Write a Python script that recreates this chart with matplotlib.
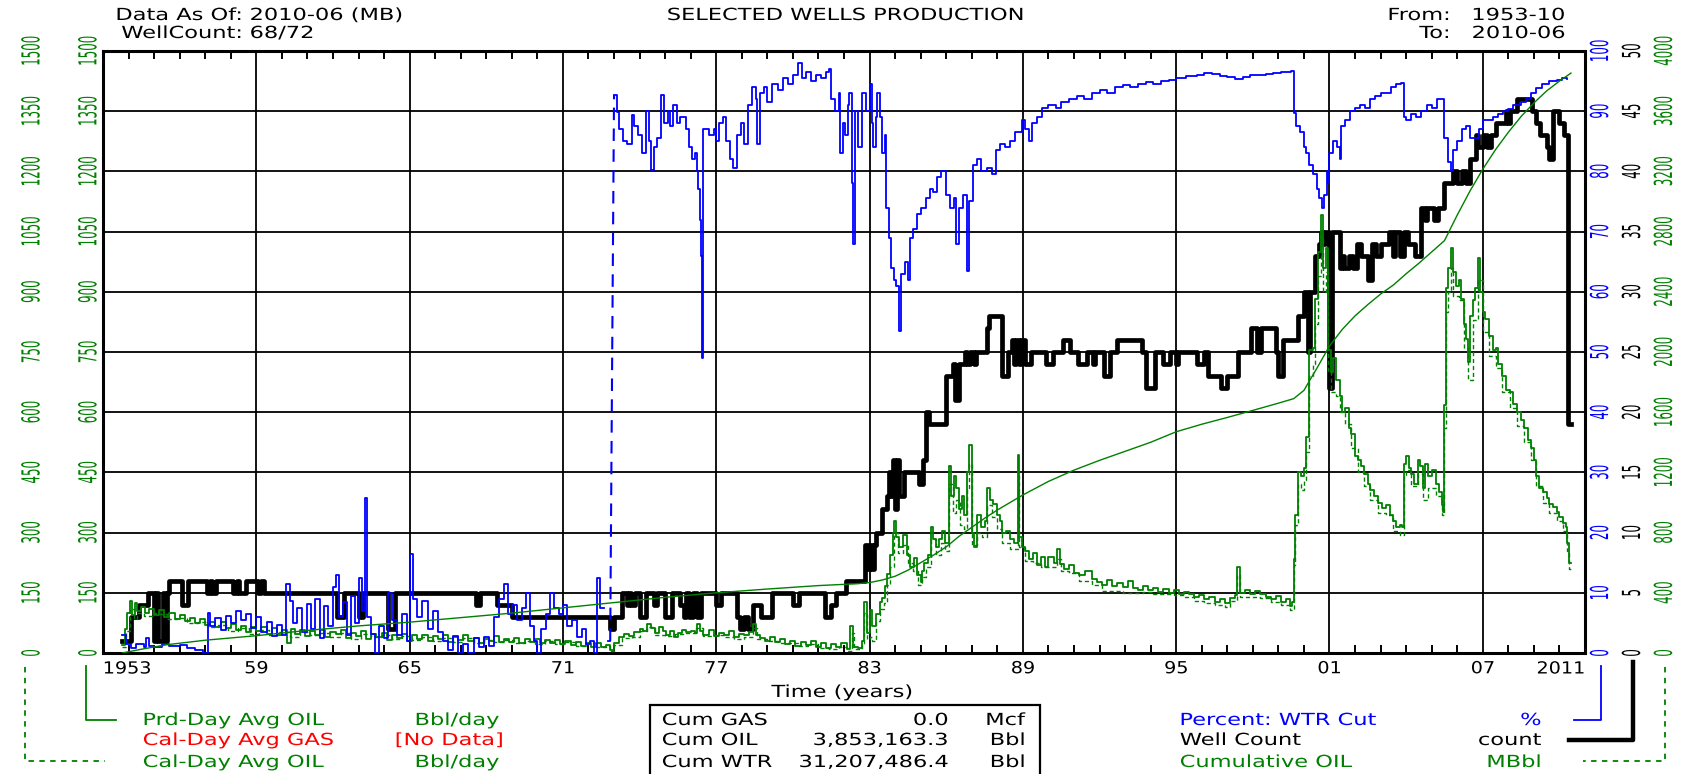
#!/usr/bin/env python3
import matplotlib
matplotlib.use("Agg")
import matplotlib.pyplot as plt
import matplotlib.patheffects as pe
from matplotlib.lines import Line2D
from matplotlib.patches import Rectangle
from matplotlib.transforms import Affine2D

GREEN = "#008000"
BLUE = "#0000ff"
RED = "#ff0000"

# ---- values, time in decimal years ----

# well count (steps)
well_t = [1953.75, 1954.08, 1954.42, 1954.75, 1955.0, 1955.08, 1955.17, 1955.33, 1955.42, 1955.5,
          1955.58, 1956.08, 1956.33, 1957.08, 1957.17, 1957.25, 1957.42, 1958.08, 1958.25, 1958.33,
          1958.58, 1959.08, 1959.17, 1959.3, 1962.17, 1962.42, 1963.0, 1963.17, 1964.17, 1964.42,
          1967.58, 1967.75, 1968.42, 1969.0, 1972.83, 1973.0, 1973.33, 1973.5, 1973.58, 1973.67,
          1973.83, 1974.0, 1974.25, 1974.58, 1974.67, 1975.0, 1975.25, 1975.58, 1975.75, 1975.83,
          1975.92, 1976.08, 1976.25, 1976.42, 1977.0, 1977.17, 1977.83, 1977.92, 1978.08, 1978.25,
          1978.42, 1978.75, 1979.17, 1980.0, 1980.25, 1981.25, 1981.5, 1981.67, 1982.08, 1982.83,
          1982.92, 1983.0, 1983.08, 1983.17, 1983.25, 1983.5, 1983.67, 1983.75, 1983.83, 1983.92,
          1984.0, 1984.08, 1984.17, 1984.33, 1984.92, 1985.08, 1985.2, 1985.33, 1986.0, 1986.25,
          1986.33, 1986.5, 1986.75, 1986.83, 1986.92, 1987.08, 1987.17, 1987.58, 1987.67, 1988.17,
          1988.42, 1988.58, 1988.67, 1988.75, 1988.83, 1988.92, 1989.08, 1989.33, 1989.92, 1990.17,
          1990.58, 1990.83, 1991.17, 1991.5, 1991.75, 1991.83, 1992.17, 1992.42, 1992.67, 1993.67,
          1993.83, 1994.17, 1994.5, 1994.75, 1995.0, 1995.08, 1995.83, 1996.08, 1996.25, 1996.75,
          1997.0, 1997.42, 1997.92, 1998.17, 1998.33, 1998.92, 1999.0, 1999.17, 1999.75, 2000.0,
          2000.17, 2000.25, 2000.42, 2000.58, 2000.67, 2000.75, 2000.83, 2001.0, 2001.08, 2001.42,
          2001.5, 2001.58, 2001.75, 2001.92, 2002.08, 2002.25, 2002.5, 2002.67, 2002.83, 2003.0,
          2003.33, 2003.5, 2003.58, 2003.75, 2003.92, 2004.08, 2004.33, 2004.58, 2004.75, 2004.83,
          2005.08, 2005.25, 2005.5, 2005.83, 2006.0, 2006.17, 2006.33, 2006.5, 2006.75, 2006.83,
          2007.0, 2007.17, 2007.33, 2007.5, 2007.92, 2008.0, 2008.08, 2008.33, 2008.92, 2009.08,
          2009.25, 2009.5, 2009.58, 2009.75, 2010.0, 2010.17, 2010.33, 2010.45]
well_n = [1, 3, 4, 5, 1, 5, 1, 5, 1, 5,
          6, 4, 6, 5, 6, 5, 6, 5, 6, 5,
          6, 5, 6, 5, 3, 5, 3, 5, 2, 5,
          4, 5, 4, 3, 2, 3, 5, 4, 5, 4,
          5, 3, 5, 4, 5, 3, 5, 4, 3, 5,
          3, 5, 3, 5, 4, 5, 3, 2, 3, 2,
          4, 3, 5, 4, 5, 3, 4, 5, 6, 9,
          7, 9, 7, 9, 10, 12, 13, 15, 13, 16,
          12, 16, 13, 15, 14, 16, 20, 19, 23, 24,
          21, 24, 25, 24, 25, 24, 25, 27, 28, 23,
          25, 26, 24, 26, 24, 26, 24, 25, 24, 25,
          26, 25, 24, 25, 24, 25, 23, 25, 26, 25,
          22, 25, 24, 25, 24, 25, 24, 25, 23, 22,
          23, 25, 27, 25, 27, 25, 23, 26, 28, 30,
          25, 30, 33, 34, 35, 34, 35, 22, 35, 32,
          33, 32, 33, 32, 34, 33, 31, 34, 33, 34,
          35, 33, 35, 33, 35, 34, 33, 37, 36, 37,
          36, 37, 39, 40, 39, 40, 39, 41, 43, 42,
          43, 42, 43, 44, 45, 44, 45, 46, 45, 44,
          43, 42, 41, 45, 44, 43, 19, 19]

# percent water cut (steps); nan = no data
wtr_t = [1953.75, 1953.9, 1954.1, 1954.3, 1954.6, 1954.7, 1954.8, 1955.0, 1955.3, 1955.6,
         1956.0, 1956.3, 1956.6, 1956.9, 1957.1, 1957.2, 1957.4, 1957.6, 1957.8, 1958.0,
         1958.2, 1958.4, 1958.6, 1958.8, 1959.0, 1959.2, 1959.4, 1959.6, 1959.8, 1960.0,
         1960.15, 1960.3, 1960.45, 1960.6, 1960.8, 1961.0, 1961.15, 1961.3, 1961.5, 1961.65,
         1961.8, 1962.0, 1962.1, 1962.25, 1962.4, 1962.55, 1962.7, 1962.85, 1963.0, 1963.15,
         1963.25, 1963.35, 1963.5, 1963.65, 1963.8, 1964.0, 1964.15, 1964.3, 1964.5, 1964.7,
         1964.9, 1965.0, 1965.15, 1965.3, 1965.5, 1965.7, 1965.9, 1966.1, 1966.3, 1966.5,
         1966.7, 1966.9, 1967.1, 1967.3, 1967.5, 1967.7, 1967.9, 1968.1, 1968.3, 1968.5,
         1968.7, 1968.85, 1969.0, 1969.2, 1969.4, 1969.55, 1969.7, 1969.85, 1970.0, 1970.15,
         1970.35, 1970.5, 1970.65, 1970.85, 1971.0, 1971.15, 1971.35, 1971.55, 1971.75, 1971.9,
         1972.05, 1972.2, 1972.35, 1972.45, 1972.6, 1972.75, 1972.85,
         1973.0, 1973.1, 1973.2, 1973.35, 1973.5, 1973.7, 1973.8, 1973.95, 1974.1, 1974.25,
         1974.35, 1974.45, 1974.55, 1974.7, 1974.85, 1974.95, 1975.1, 1975.2, 1975.3, 1975.45,
         1975.6, 1975.8, 1975.95, 1976.05, 1976.15, 1976.25, 1976.3, 1976.35, 1976.4, 1976.45,
         1976.5, 1976.7, 1976.9, 1977.0, 1977.1, 1977.25, 1977.4, 1977.55, 1977.65, 1977.8,
         1977.95, 1978.1, 1978.25, 1978.4, 1978.55, 1978.6, 1978.7, 1978.85, 1979.0, 1979.2,
         1979.4, 1979.6, 1979.8, 1980.0, 1980.2, 1980.35, 1980.5, 1980.7, 1980.9, 1981.1,
         1981.3, 1981.4, 1981.5, 1981.65, 1981.8, 1981.85, 1981.95, 1982.05, 1982.15, 1982.2,
         1982.3, 1982.35, 1982.45, 1982.55, 1982.7, 1982.85, 1983.0, 1983.1, 1983.15, 1983.25,
         1983.3, 1983.4, 1983.5, 1983.6, 1983.65, 1983.75, 1983.85, 1983.95, 1984.05, 1984.15,
         1984.25, 1984.4, 1984.5, 1984.6, 1984.7, 1984.85, 1985.0, 1985.2, 1985.35, 1985.5,
         1985.65, 1985.8, 1986.0, 1986.15, 1986.3, 1986.4, 1986.5, 1986.65, 1986.8, 1986.9,
         1987.05, 1987.2, 1987.35, 1987.6, 1987.8, 1987.95, 1988.1, 1988.3, 1988.5, 1988.7,
         1988.95, 1989.1, 1989.25, 1989.35, 1989.55, 1989.75, 1990.0, 1990.3, 1990.5, 1990.8,
         1991.1, 1991.4, 1991.7, 1992.0, 1992.3, 1992.6, 1992.9, 1993.2, 1993.5, 1993.8,
         1994.1, 1994.4, 1994.7, 1995.0, 1995.4, 1995.8, 1996.1, 1996.4, 1996.7, 1997.0,
         1997.3, 1997.6, 1997.9, 1998.2, 1998.5, 1998.8, 1999.1, 1999.5, 1999.6, 1999.7,
         1999.85, 2000.0, 2000.1, 2000.2, 2000.35, 2000.5, 2000.6, 2000.7, 2000.8, 2000.9,
         2000.95, 2001.0, 2001.15, 2001.3, 2001.4, 2001.45, 2001.6, 2001.8, 2002.0, 2002.2,
         2002.4, 2002.6, 2002.8, 2003.0, 2003.2, 2003.4, 2003.6, 2003.8, 2003.9, 2004.0,
         2004.2, 2004.4, 2004.6, 2004.8, 2005.0, 2005.2, 2005.4, 2005.5, 2005.65, 2005.75,
         2005.85, 2006.0, 2006.2, 2006.35, 2006.5, 2006.7, 2006.85, 2007.0, 2007.2, 2007.4,
         2007.6, 2007.8, 2008.0, 2008.2, 2008.5, 2008.7, 2008.9, 2009.1, 2009.3, 2009.6,
         2009.9, 2010.1, 2010.3]
wtr_pct = [3.0, 1.5, 0.8, 1.5, 1.0, 2.5, 1.2, 1.0, 1.5, 1.1,
           1.3, 0.8, 0.5, 0.0, 6.7, 4.5, 5.8, 3.8, 6.2, 5.0,
           7.0, 5.5, 6.4, 4.2, 6.0, 3.5, 5.2, 2.8, 4.6, 3.0,
           11.5, 8.6, 5.0, 7.5, 3.5, 8.2, 4.0, 9.0, 2.5, 7.8,
           4.5, 11.0, 13.0, 6.0, 8.5, 3.0, 9.5, 5.0, 12.5, 7.0,
           25.7, 6.0, 3.2, 0.0, 4.5, 2.5, 10.0, 5.5, 3.0, 6.5,
           2.0, 16.4, 9.0, 6.0, 8.6, 4.0, 7.0, 3.5, 2.0, 0.5,
           2.8, 0.0, 1.5, 0.0, 2.5, 1.0, 2.6, 1.2, 6.0, 9.0,
           11.4, 6.5, 8.0, 5.5, 7.5, 10.0, 4.5, 2.0, 0.0, 4.0,
           6.5, 10.0, 7.5, 6.5, 8.0, 4.5, 5.5, 2.6, 4.0, 1.5,
           2.0, 0.0, 12.4, 7.5, float("nan"), 2.0, float("nan"),
           92.7, 89.8, 87.0, 85.0, 84.5, 89.4, 87.5, 86.0, 83.0, 90.0,
           85.0, 80.3, 84.0, 85.5, 92.7, 88.0, 90.0, 87.5, 91.0, 88.0,
           89.0, 87.0, 84.0, 82.0, 83.0, 80.0, 77.0, 72.0, 66.0, 49.0,
           87.0, 86.0, 87.0, 85.0, 88.0, 89.0, 85.0, 82.0, 80.5, 86.0,
           88.0, 84.5, 91.0, 94.0, 92.0, 84.5, 93.0, 94.0, 91.5, 94.5,
           93.5, 95.5, 94.5, 96.0, 98.0, 95.5, 96.5, 95.0, 96.0, 95.5,
           96.5, 97.0, 92.0, 90.0, 93.0, 83.0, 88.0, 86.0, 91.0, 93.0,
           78.0, 68.0, 90.0, 84.0, 93.0, 90.0, 94.5, 88.0, 84.0, 89.0,
           93.0, 89.0, 83.0, 86.0, 74.0, 69.0, 64.0, 62.0, 61.0, 53.5,
           63.0, 65.0, 62.0, 69.0, 70.5, 73.0, 74.0, 75.5, 77.0, 76.5,
           79.0, 80.0, 76.0, 74.0, 75.5, 68.0, 74.0, 76.0, 63.5, 75.0,
           81.0, 82.0, 80.0, 80.5, 79.5, 83.5, 84.5, 84.0, 85.0, 86.5,
           88.5, 87.0, 85.0, 88.0, 89.0, 90.5, 91.0, 90.5, 91.5, 92.0,
           92.5, 92.0, 93.0, 93.5, 93.0, 94.0, 94.3, 94.0, 94.6, 94.8,
           94.5, 95.0, 95.2, 95.5, 95.8, 96.0, 96.3, 96.2, 95.8, 95.6,
           95.4, 95.7, 96.0, 96.0, 96.2, 96.4, 96.5, 96.6, 89.7, 87.5,
           86.5, 84.0, 83.0, 81.0, 79.5, 77.0, 75.5, 74.0, 76.0, 80.0,
           78.0, 83.0, 85.0, 84.0, 82.0, 87.5, 88.5, 90.0, 90.5, 91.0,
           90.5, 92.0, 92.5, 93.0, 93.0, 94.0, 94.5, 94.7, 89.0, 88.5,
           89.5, 89.0, 90.0, 91.0, 90.5, 92.0, 92.0, 85.5, 81.5, 80.0,
           83.5, 85.0, 87.0, 87.5, 85.5, 85.5, 87.0, 88.5, 88.5, 89.0,
           89.5, 90.0, 90.3, 91.0, 91.5, 92.0, 93.0, 93.8, 94.5, 95.0,
           95.2, 95.5, 95.4]

# the jump after the data gap in 1972-73 is drawn dashed
wtr_gap_t = [1972.85, 1972.92, 1973.0]
wtr_gap_pct = [2.0, 45.0, 92.7]

# producing-day average oil rate, Bbl/day (steps)
prd_t = [1953.75, 1953.85, 1953.95, 1954.05, 1954.15, 1954.25, 1954.35, 1954.5, 1954.65, 1954.8,
         1955.0, 1955.2, 1955.4, 1955.6, 1955.8, 1956.0, 1956.2, 1956.4, 1956.6, 1956.8,
         1957.0, 1957.2, 1957.4, 1957.6, 1957.8, 1958.0, 1958.2, 1958.4, 1958.6, 1958.8,
         1959.0, 1959.2, 1959.4, 1959.6, 1959.8, 1960.0, 1960.2, 1960.35, 1960.5, 1960.7,
         1960.9, 1961.1, 1961.3, 1961.5, 1961.7, 1961.9, 1962.1, 1962.3, 1962.5, 1962.7,
         1962.9, 1963.1, 1963.3, 1963.5, 1963.7, 1963.9, 1964.1, 1964.3, 1964.5, 1964.7,
         1964.9, 1965.1, 1965.3, 1965.5, 1965.7, 1965.9, 1966.1, 1966.3, 1966.5, 1966.7,
         1966.9, 1967.1, 1967.3, 1967.5, 1967.7, 1967.9, 1968.1, 1968.3, 1968.5, 1968.7,
         1968.9, 1969.1, 1969.3, 1969.5, 1969.7, 1969.9, 1970.1, 1970.3, 1970.5, 1970.7,
         1970.9, 1971.1, 1971.3, 1971.5, 1971.7, 1971.9, 1972.1, 1972.3, 1972.5, 1972.7,
         1972.85, 1973.0, 1973.2, 1973.4, 1973.6, 1973.8, 1974.0, 1974.15, 1974.3, 1974.45,
         1974.6, 1974.75, 1974.9, 1975.05, 1975.2, 1975.35, 1975.5, 1975.65, 1975.8, 1976.0,
         1976.15, 1976.25, 1976.35, 1976.5, 1976.7, 1976.9, 1977.1, 1977.3, 1977.5, 1977.7,
         1977.9, 1978.1, 1978.3, 1978.45, 1978.55, 1978.7, 1978.9, 1979.1, 1979.3, 1979.5,
         1979.7, 1979.9, 1980.1, 1980.3, 1980.5, 1980.7, 1980.9, 1981.1, 1981.3, 1981.5,
         1981.7, 1981.9, 1982.1, 1982.25, 1982.35, 1982.55, 1982.7, 1982.8, 1982.9, 1983.0,
         1983.1, 1983.25, 1983.4, 1983.5, 1983.6, 1983.7, 1983.8, 1983.9, 1983.95, 1984.05,
         1984.15, 1984.3, 1984.45, 1984.6, 1984.75, 1984.85, 1985.0, 1985.05, 1985.15, 1985.3,
         1985.4, 1985.5, 1985.6, 1985.7, 1985.85, 1985.95, 1986.1, 1986.2, 1986.3, 1986.4,
         1986.5, 1986.6, 1986.7, 1986.8, 1986.9, 1987.0, 1987.1, 1987.2, 1987.35, 1987.5,
         1987.6, 1987.7, 1987.85, 1988.0, 1988.1, 1988.2, 1988.35, 1988.5, 1988.65, 1988.8,
         1988.85, 1988.95, 1989.1, 1989.25, 1989.4, 1989.55, 1989.7, 1989.85, 1990.0, 1990.2,
         1990.35, 1990.45, 1990.6, 1990.8, 1991.0, 1991.2, 1991.45, 1991.7, 1991.9, 1992.1,
         1992.3, 1992.5, 1992.7, 1992.9, 1993.1, 1993.3, 1993.5, 1993.7, 1993.9, 1994.1,
         1994.3, 1994.5, 1994.7, 1994.9, 1995.1, 1995.3, 1995.5, 1995.7, 1995.9, 1996.1,
         1996.3, 1996.5, 1996.7, 1996.9, 1997.1, 1997.3, 1997.4, 1997.5, 1997.7, 1997.9,
         1998.1, 1998.3, 1998.5, 1998.7, 1998.9, 1999.1, 1999.3, 1999.45, 1999.55, 1999.6,
         1999.65, 1999.75, 1999.9, 2000.0, 2000.1, 2000.2, 2000.35, 2000.45, 2000.55, 2000.65,
         2000.75, 2000.85, 2000.95, 2001.05, 2001.15, 2001.25, 2001.4, 2001.5, 2001.6, 2001.75,
         2001.85, 2002.0, 2002.1, 2002.25, 2002.35, 2002.5, 2002.6, 2002.75, 2002.9, 2003.05,
         2003.2, 2003.35, 2003.5, 2003.6, 2003.75, 2003.85, 2003.9, 2004.0, 2004.1, 2004.2,
         2004.3, 2004.45, 2004.55, 2004.65, 2004.75, 2004.85, 2005.0, 2005.15, 2005.3, 2005.4,
         2005.45, 2005.5, 2005.57, 2005.65, 2005.75, 2005.85, 2005.95, 2006.05, 2006.15, 2006.25,
         2006.35, 2006.42, 2006.5, 2006.6, 2006.7, 2006.8, 2006.9, 2007.0, 2007.1, 2007.25,
         2007.4, 2007.5, 2007.6, 2007.75, 2007.9, 2008.05, 2008.2, 2008.35, 2008.5, 2008.6,
         2008.75, 2008.9, 2009.0, 2009.1, 2009.2, 2009.35, 2009.5, 2009.6, 2009.75, 2009.9,
         2010.0, 2010.15, 2010.25, 2010.3, 2010.38, 2010.45]
prd_oil = [20, 60, 100, 130, 95, 125, 105, 115, 100, 110,
           95, 108, 90, 100, 85, 95, 80, 88, 75, 84,
           70, 78, 65, 76, 62, 72, 58, 68, 52, 66,
           55, 64, 48, 62, 44, 58, 25, 60, 48, 58,
           42, 55, 45, 57, 40, 52, 47, 58, 38, 50,
           42, 54, 36, 48, 40, 50, 33, 46, 38, 48,
           31, 44, 36, 45, 30, 42, 34, 44, 28, 40,
           33, 45, 30, 38, 26, 36, 30, 42, 27, 35,
           28, 38, 25, 34, 27, 36, 24, 33, 26, 32,
           22, 30, 20, 28, 18, 26, 16, 24, 14, 20,
           8, 25, 40, 48, 42, 52, 60, 55, 73, 62,
           50, 64, 55, 45, 54, 40, 50, 58, 52, 56,
           50, 73, 55, 45, 58, 42, 50, 44, 54, 40,
           48, 44, 52, 72, 46, 38, 30, 40, 27, 34,
           22, 30, 18, 27, 20, 29, 14, 25, 12, 22,
           15, 24, 10, 68, 15, 12, 29, 127, 49, 108,
           68, 98, 127, 137, 166, 196, 245, 300, 328, 290,
           264, 294, 245, 215, 236, 195, 176, 205, 225, 245,
           313, 284, 264, 284, 303, 274, 465, 392, 440, 410,
           360, 392, 343, 450, 519, 300, 264, 343, 313, 330,
           411, 382, 372, 343, 330, 300, 303, 285, 274, 494,
           290, 264, 255, 235, 250, 220, 240, 215, 238, 225,
           258, 222, 210, 220, 200, 195, 205, 185, 178, 170,
           182, 168, 175, 165, 180, 162, 158, 166, 156, 162,
           152, 160, 150, 157, 148, 152, 146, 140, 145, 134,
           140, 128, 135, 124, 137, 145, 214, 150, 157, 148,
           155, 147, 140, 135, 142, 128, 135, 117, 126, 235,
           343, 450, 440, 460, 538, 754, 760, 881, 1000, 1092,
           960, 1010, 754, 700, 735, 680, 640, 600, 610, 560,
           545, 490, 480, 465, 445, 420, 405, 392, 375, 362,
           370, 345, 330, 313, 320, 315, 470, 490, 460, 445,
           420, 480, 465, 411, 470, 440, 455, 420, 400, 370,
           352, 617, 910, 960, 1008, 950, 915, 930, 881, 820,
           783, 724, 840, 880, 910, 984, 900, 850, 832, 790,
           754, 760, 720, 690, 656, 650, 620, 600, 580, 560,
           530, 510, 480, 440, 411, 400, 385, 372, 365, 352,
           340, 325, 313, 274, 225, 225]

# calendar-day average oil rate, Bbl/day (steps, dashed)
cal_t = [1953.75, 1953.9, 1954.05, 1954.2, 1954.35, 1954.6, 1954.9, 1955.2, 1955.5, 1955.9,
         1956.3, 1956.7, 1957.1, 1957.5, 1957.9, 1958.3, 1958.7, 1959.1, 1959.5, 1959.9,
         1960.3, 1960.7, 1961.1, 1961.5, 1961.9, 1962.3, 1962.7, 1963.1, 1963.5, 1963.9,
         1964.3, 1964.7, 1965.1, 1965.5, 1965.9, 1966.3, 1966.7, 1967.1, 1967.5, 1967.9,
         1968.3, 1968.7, 1969.1, 1969.5, 1969.9, 1970.3, 1970.7, 1971.1, 1971.5, 1971.9,
         1972.3, 1972.7, 1972.85, 1973.0, 1973.3, 1973.7, 1974.0, 1974.3, 1974.6, 1975.0,
         1975.4, 1975.8, 1976.2, 1976.5, 1976.9, 1977.3, 1977.7, 1978.1, 1978.45, 1978.6,
         1979.0, 1979.4, 1979.8, 1980.2, 1980.6, 1981.0, 1981.4, 1981.8, 1982.1, 1982.3,
         1982.4, 1982.7, 1982.8, 1982.9, 1983.0, 1983.1, 1983.25, 1983.4, 1983.55, 1983.7,
         1983.8, 1983.95, 1984.1, 1984.3, 1984.5, 1984.7, 1984.9, 1985.05, 1985.2, 1985.4,
         1985.6, 1985.8, 1985.95, 1986.1, 1986.25, 1986.4, 1986.55, 1986.7, 1986.8, 1986.9,
         1987.0, 1987.2, 1987.4, 1987.6, 1987.8, 1988.0, 1988.2, 1988.5, 1988.8, 1988.85,
         1989.1, 1989.4, 1989.7, 1990.0, 1990.35, 1990.5, 1990.8, 1991.2, 1991.7, 1992.1,
         1992.5, 1992.9, 1993.3, 1993.7, 1994.1, 1994.5, 1994.9, 1995.3, 1995.7, 1996.1,
         1996.5, 1996.9, 1997.1, 1997.4, 1997.5, 1997.9, 1998.3, 1998.7, 1999.1, 1999.45,
         1999.6, 1999.65, 1999.75, 1999.9, 2000.0, 2000.1, 2000.2, 2000.35, 2000.45, 2000.55,
         2000.65, 2000.75, 2000.85, 2000.95, 2001.05, 2001.25, 2001.4, 2001.6, 2001.85, 2002.1,
         2002.35, 2002.6, 2002.9, 2003.2, 2003.5, 2003.75, 2003.9, 2004.0, 2004.2, 2004.45,
         2004.65, 2004.85, 2005.15, 2005.4, 2005.5, 2005.57, 2005.65, 2005.75, 2005.85, 2006.05,
         2006.25, 2006.42, 2006.6, 2006.8, 2007.0, 2007.25, 2007.5, 2007.75, 2008.05, 2008.35,
         2008.6, 2008.9, 2009.1, 2009.35, 2009.6, 2009.9, 2010.15, 2010.3, 2010.38, 2010.45]
cal_oil = [15, 55, 110, 85, 100, 92, 100, 96, 85, 88,
           74, 78, 65, 70, 56, 62, 48, 58, 44, 52,
           40, 52, 46, 50, 40, 50, 36, 47, 40, 45,
           34, 43, 32, 40, 30, 38, 28, 38, 26, 33,
           27, 32, 25, 31, 23, 30, 22, 27, 18, 24,
           15, 17, 5, 20, 38, 40, 55, 66, 46, 42,
           47, 50, 62, 42, 45, 40, 36, 40, 62, 36,
           30, 25, 24, 18, 22, 12, 10, 16, 5, 50,
           10, 20, 100, 35, 40, 30, 80, 110, 125, 170,
           215, 300, 250, 270, 225, 205, 170, 190, 215, 285,
           245, 275, 255, 420, 350, 380, 320, 310, 405, 470,
           270, 300, 290, 370, 340, 310, 275, 260, 440, 265,
           230, 225, 215, 215, 235, 205, 200, 180, 170, 155,
           155, 150, 150, 152, 148, 148, 145, 140, 130, 125,
           120, 115, 130, 195, 140, 140, 138, 128, 120, 108,
           220, 320, 420, 405, 430, 500, 690, 720, 820, 940,
           1040, 900, 950, 700, 650, 640, 600, 570, 510, 450,
           415, 380, 350, 345, 305, 295, 440, 455, 415, 445,
           380, 410, 390, 345, 560, 850, 900, 960, 890, 880,
           760, 680, 830, 930, 800, 740, 710, 650, 610, 565,
           525, 480, 415, 375, 350, 330, 305, 255, 210, 210]

# cumulative oil, MBbl
cum_t = [1953.75, 1954.5, 1955.5, 1957.0, 1959.0, 1961.0, 1963.0, 1965.0, 1967.0, 1969.0,
         1971.0, 1973.0, 1975.0, 1977.0, 1979.0, 1981.0, 1982.5, 1983.0, 1983.5, 1984.0,
         1984.5, 1985.0, 1985.5, 1986.0, 1986.5, 1987.0, 1987.5, 1988.0, 1988.5, 1989.0,
         1990.0, 1991.0, 1992.0, 1993.0, 1994.0, 1995.0, 1996.0, 1997.0, 1998.0, 1999.0,
         1999.6, 2000.0, 2000.5, 2001.0, 2001.5, 2002.0, 2002.5, 2003.0, 2003.5, 2004.0,
         2004.5, 2005.0, 2005.5, 2006.0, 2006.5, 2007.0, 2007.5, 2008.0, 2008.5, 2009.0,
         2009.5, 2010.0, 2010.45]
cum_oil = [0, 25, 55, 85, 115, 150, 180, 205, 235, 265,
           300, 335, 370, 400, 425, 448, 460, 468, 485, 510,
           550, 600, 650, 705, 775, 835, 895, 950, 1000, 1050,
           1140, 1215, 1280, 1340, 1400, 1470, 1520, 1565, 1612, 1660,
           1690, 1745, 1890, 2040, 2150, 2240, 2315, 2385, 2445, 2520,
           2590, 2665, 2740, 2910, 3070, 3215, 3345, 3460, 3565, 3655,
           3735, 3800, 3853]

year_ticks = list(range(1959, 2008, 6))
year_labels = ["59", "65", "71", "77", "83", "89", "95", "01", "07"]
oil_ticks = list(range(0, 1501, 150))
pct_ticks = list(range(0, 101, 10))
well_ticks = list(range(0, 51, 5))
cum_ticks = list(range(0, 4001, 400))


class Wide(pe.AbstractPathEffect):
    """Draw text glyphs stretched (the original chart's text is wide)."""

    def __init__(self, sx=1.0, sy=1.0, k=0.0):
        super().__init__()
        self.sx, self.sy, self.k = sx, sy, k

    def draw_path(self, renderer, gc, tpath, affine, rgbFace=None):
        ext = tpath.get_extents()
        cx = ext.x0 + self.k * ext.width
        cy = (ext.y0 + ext.y1) / 2
        st = Affine2D().translate(-cx, -cy).scale(self.sx, self.sy).translate(cx, cy)
        renderer.draw_path(gc, tpath, st + affine, rgbFace)


ANCHOR = {"left": 0.0, "center": 0.5, "right": 1.0}
TEXT_SX = 1.35

plt.rcParams["font.family"] = ["DejaVu Sans"]

W, H = 1684, 774
fig = plt.figure(figsize=(W / 100, H / 100), dpi=100)
px_l, px_r, px_t, px_b = 103, 1585, 51, 653
ax = fig.add_axes([px_l / W, 1 - px_b / H, (px_r - px_l) / W, (px_b - px_t) / H])


def side_labels(a, ticks):
    a.set_yticks(ticks, labels=[str(v) for v in ticks], rotation=90, va="center")
    for lbl in a.get_yticklabels():
        lbl.set_path_effects([Wide(sy=2.1)])


def twin(lim, ticks, color, pad, side):
    t = ax.twinx()
    t.set_ylim(*lim)
    for s in t.spines.values():
        s.set_visible(False)
    if side == "left":
        t.yaxis.tick_left()
    t.tick_params(axis="y", length=0, pad=pad, labelsize=8.5, labelcolor=color)
    side_labels(t, ticks)
    return t


ax_oil = twin((0, 1500), oil_ticks, GREEN, 6, "left")
ax_cal = twin((0, 1500), oil_ticks, GREEN, 47, "left")
ax_pct = twin((0, 100), pct_ticks, BLUE, 6, "right")
ax_cum = twin((0, 4000), cum_ticks, GREEN, 52, "right")

# base axes carries the frame, grid and the well count
ax.set_xlim(1953, 2011)
ax.set_ylim(0, 50)
ax.yaxis.tick_right()
ax.tick_params(axis="y", length=0, pad=29, labelsize=8.5, labelcolor="black")
side_labels(ax, well_ticks)
ax.set_xticks(year_ticks, labels=year_labels)
ax.set_xticks(range(1953, 2012), minor=True)
ax.tick_params(axis="x", which="major", length=0, pad=4.5, labelsize=12)
ax.tick_params(axis="x", which="minor", direction="in", length=6, width=1.4, top=True, bottom=True)
for lbl in ax.get_xticklabels():
    lbl.set_path_effects([Wide(sx=1.15, k=0.5)])
ax.grid(True, which="major", color="black", lw=1.3)
for s in ax.spines.values():
    s.set_linewidth(2.2)
for yr, s, ha in [(1953, "1953", "left"), (2011, "2011", "right")]:
    ax.text(yr, -6.5 / 602, s, transform=ax.get_xaxis_transform(), ha=ha, va="top",
            fontsize=12, path_effects=[Wide(sx=1.15, k=ANCHOR[ha])])

ax.plot(well_t, well_n, drawstyle="steps-post", color="black", lw=3.4)
ax_oil.plot(prd_t, prd_oil, drawstyle="steps-post", color=GREEN, lw=1.3)
ax_cal.plot(cal_t, cal_oil, drawstyle="steps-post", color=GREEN, lw=1.0, ls=(0, (3, 2)))
ax_pct.plot(wtr_t, wtr_pct, drawstyle="steps-post", color=BLUE, lw=1.3)
ax_pct.plot(wtr_gap_t, wtr_gap_pct, color=BLUE, lw=1.5, ls=(0, (6, 4)))
ax_cum.plot(cum_t, cum_oil, color=GREEN, lw=1.0)


def text(x, y, s, color="black", ha="left", size=12):
    fig.text(x / W, 1 - y / H, s, color=color, ha=ha, va="center", fontsize=size,
             path_effects=[Wide(sx=TEXT_SX, k=ANCHOR[ha])])


def leg_line(xs, ys, **kw):
    fig.add_artist(Line2D([x / W for x in xs], [1 - y / H for y in ys],
                          transform=fig.transFigure, **kw))


# header
text(242, 15, "Data As Of:", ha="right")
text(250, 15, "2010-06 (MB)")
text(242, 33, "WellCount:", ha="right")
text(250, 33, "68/72")
text(845, 15, "SELECTED WELLS PRODUCTION", ha="center")
text(1450, 15, "From:", ha="right")
text(1472, 15, "1953-10")
text(1450, 33, "To:", ha="right")
text(1472, 33, "2010-06")
text(842, 692, "Time (years)", ha="center")

# left legend
leg_line([86, 86, 116], [666, 720, 720], color=GREEN, lw=1.3)
leg_line([25, 25, 105], [667, 761, 761], color=GREEN, lw=1.3, ls=(0, (3, 3)))
text(143, 720, "Prd-Day Avg OIL", GREEN)
text(499, 720, "Bbl/day", GREEN, ha="right")
text(143, 740, "Cal-Day Avg GAS", RED)
text(503, 740, "[No Data]", RED, ha="right")
text(143, 762, "Cal-Day Avg OIL", GREEN)
text(499, 762, "Bbl/day", GREEN, ha="right")

# totals box
fig.add_artist(Rectangle((650 / W, 1 - 778 / H), 390 / W, 73 / H, transform=fig.transFigure,
                         fill=False, ec="black", lw=1.6))
for y, name, val, unit in [(720, "Cum GAS", "0.0", "Mcf"),
                           (740, "Cum OIL", "3,853,163.3", "Bbl"),
                           (762, "Cum WTR", "31,207,486.4", "Bbl")]:
    text(662, y, name)
    text(948, y, val, ha="right")
    text(1025, y, unit, ha="right")

# right legend
leg_line([1601, 1601, 1574], [666, 720, 720], color=BLUE, lw=1.3)
leg_line([1633, 1633, 1569], [662, 740, 740], color="black", lw=3.2)
leg_line([1665, 1665, 1583], [667, 761, 761], color=GREEN, lw=1.3, ls=(0, (3, 3)))
text(1180, 720, "Percent: WTR Cut", BLUE)
text(1541, 720, "%", BLUE, ha="right")
text(1180, 740, "Well Count")
text(1541, 740, "count", ha="right")
text(1180, 762, "Cumulative OIL", GREEN)
text(1541, 762, "MBbl", GREEN, ha="right")

fig.savefig("out.png", dpi=100)
